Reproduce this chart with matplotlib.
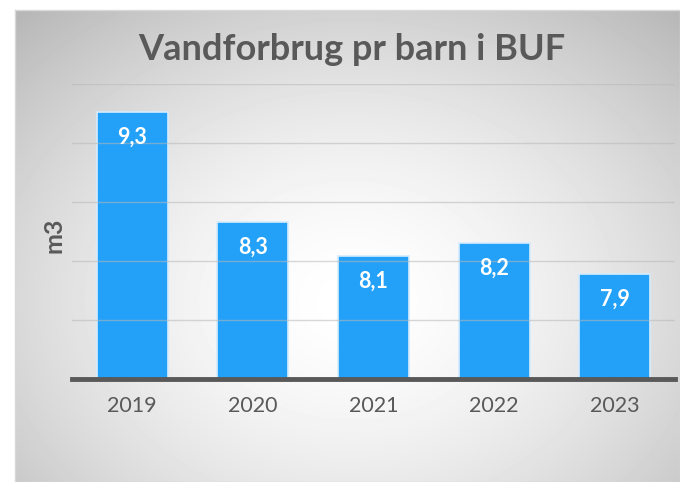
import numpy as np
import matplotlib
matplotlib.use("Agg")
import matplotlib.pyplot as plt

# data
years = ["2019", "2020", "2021", "2022", "2023"]
values = [9.26, 8.33, 8.04, 8.15, 7.89]
labels = ["9,3", "8,3", "8,1", "8,2", "7,9"]

TXT = "#595959"
BAR = "#23A0F8"

plt.rcParams["font.family"] = ["Lato", "DejaVu Sans"]

fig = plt.figure(figsize=(6.8, 4.82), dpi=100)
fig.patch.set_facecolor("white")

# radial grey background panel
bg = fig.add_axes([15 / 680, 0, 665 / 680, 472 / 482], zorder=0)
h, w = 472, 665
yy, xx = np.mgrid[0:h, 0:w]
d = np.sqrt(((xx - 335) / 420.0) ** 2 + ((yy - 290) / 330.0) ** 2)
shade = 1.0 - 0.22 * np.clip(d, 0, 1.2) ** 1.6
bg.imshow(shade, cmap="gray", vmin=0, vmax=1, aspect="auto", interpolation="bilinear")
bg.set_xticks([])
bg.set_yticks([])
for s in bg.spines.values():
    s.set_color("#d9d9d9")
    s.set_linewidth(1)

ax = fig.add_axes([72 / 680, 103 / 482, 603 / 680, 295 / 482], zorder=1)
ax.patch.set_alpha(0)

x = np.arange(len(years))
bars = ax.bar(x, values, width=0.59, bottom=0, color=BAR, edgecolor="#d6ecfc",
              linewidth=1.2, zorder=2)
ax.set_ylim(7.0, 9.5)
ax.set_xlim(-0.5, len(years) - 0.5)

ax.set_yticks(np.arange(7.5, 9.51, 0.5))
ax.yaxis.grid(True, color="#b8b8b8", linewidth=1, alpha=0.55, zorder=3)
ax.set_axisbelow(False)
ax.tick_params(axis="y", length=0, labelleft=False)

for sp in ["top", "right", "left"]:
    ax.spines[sp].set_visible(False)
ax.spines["bottom"].set_color(TXT)
ax.spines["bottom"].set_linewidth(3.5)
ax.spines["bottom"].set_zorder(4)

ax.set_xticks(x)
ax.set_xticklabels(years, fontsize=15.5, color=TXT)
ax.tick_params(axis="x", length=0, pad=12)

for rect, lab in zip(bars, labels):
    ax.annotate(lab, (rect.get_x() + rect.get_width() / 2, rect.get_height()),
                xytext=(0, -25), textcoords="offset pixels", ha="center", va="center",
                color="white", fontsize=15.5, fontweight="bold", zorder=5)

fig.text(54 / 680, 1 - 235 / 482, "m3", rotation=90, ha="center", va="center",
         fontsize=18, fontweight="bold", color=TXT)
fig.text(352 / 680, 1 - 50 / 482, "Vandforbrug pr barn i BUF", ha="center", va="center",
         fontsize=26, fontweight="bold", color=TXT)

fig.savefig("out.png", dpi=100)
